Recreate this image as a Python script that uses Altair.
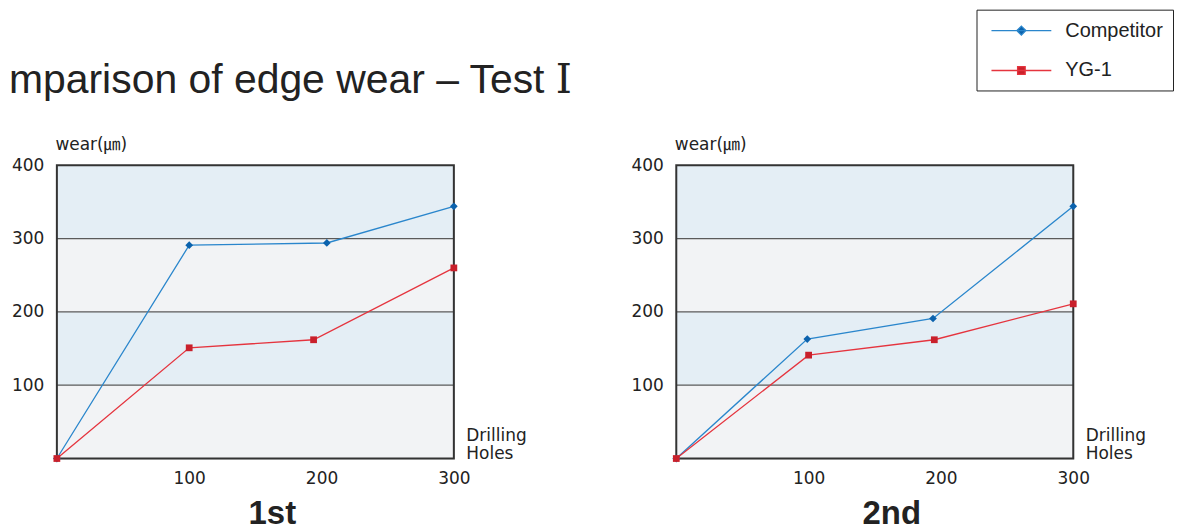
import altair as alt
import pandas as pd

# ---------------- data ----------------
series = ["Competitor", "YG-1"]
holes_ticks = [100, 200, 300]
wear_ticks = [100, 200, 300, 400]
holes_range = [0, 300]
wear_range = [0, 400]

t1_comp_holes = [0, 100, 204, 300]
t1_comp_wear = [0, 291, 294, 344]
t1_yg_holes = [0, 100, 194, 300]
t1_yg_wear = [0, 151, 162, 260]

t2_comp_holes = [0, 99, 194, 300]
t2_comp_wear = [0, 163, 191, 344]
t2_yg_holes = [0, 100, 195, 300]
t2_yg_wear = [0, 141, 162, 211]

band_lo = [0, 100, 200, 300]
band_hi = [100, 200, 300, 400]
band_kind = ["low", "high", "low", "high"]
grid_wear = [100, 200, 300]

main_title = "mparison of edge wear – Test Ⅰ"
panel_titles = ["1st", "2nd"]
y_title = "wear(㎛)"
x_title = ["Drilling", "Holes"]

# ---------------- style ----------------
W, H = 398, 294
BLUE_LINE, BLUE_MARK = "#2a86cc", "#0b62ad"
RED_LINE, RED_MARK = "#e5343e", "#c9202b"
BAND_BLUE = "#e4eef5"
TXT = "#222222"
AX_FONT = "DejaVu Sans"

xs = alt.Scale(domain=holes_range, nice=False, zero=False)
ys = alt.Scale(domain=wear_range, nice=False, zero=False)

ax_x = alt.Axis(values=holes_ticks, labelFont=AX_FONT, labelFontSize=17, labelColor=TXT,
                labelPadding=12, ticks=False, domain=False, grid=False, labelFlush=False,
                title=x_title, titleFont=AX_FONT, titleFontSize=17, titleFontWeight="normal",
                titleColor=TXT, titleAngle=0, titleAlign="left", titleBaseline="alphabetic",
                titleX=410, titleY=-18, titleLineHeight=18)
ax_y = alt.Axis(values=wear_ticks, labelFont=AX_FONT, labelFontSize=17, labelColor=TXT,
                labelPadding=13, ticks=False, domain=False, grid=False,
                title=y_title, titleFont=f"{AX_FONT}, 'Noto Sans CJK KR'", titleFontSize=17,
                titleFontWeight="normal",
                titleColor=TXT, titleAngle=0, titleAlign="left", titleBaseline="alphabetic",
                titleX=-2, titleY=-16)

diamond_path = "M-3,0H3M0,-0.45L0.45,0L0,0.45L-0.45,0Z"
square_path = "M-3,0H3M-0.38,-0.38H0.38V0.38H-0.38Z"

leg = alt.Legend(title=None, orient="none", legendX=922, legendY=-156,
                 labelFont="Liberation Sans", labelFontSize=20, labelColor=TXT,
                 strokeColor="#222222", fillColor="white", padding=10,
                 symbolSize=400, symbolStrokeWidth=1.3, symbolOffset=24, labelOffset=33,
                 rowPadding=19, symbolOpacity=1)


def panel(comp_h, comp_w, yg_h, yg_w, ptitle, band_gray, with_extras):
    bands = pd.DataFrame({"h": [holes_range[0]] * 4, "h2": [holes_range[1]] * 4,
                          "w": band_lo, "w2": band_hi, "k": band_kind})
    grid = pd.DataFrame({"h": [holes_range[0]] * 3, "h2": [holes_range[1]] * 3, "w": grid_wear})
    frame = pd.DataFrame({"h": [holes_range[0]], "h2": [holes_range[1]],
                          "w": [wear_range[0]], "w2": [wear_range[1]]})
    comp = pd.DataFrame({"h": comp_h, "w": comp_w})
    yg = pd.DataFrame({"h": yg_h, "w": yg_w})

    X = alt.X("h:Q", scale=xs, axis=ax_x)
    Y = alt.Y("w:Q", scale=ys, axis=ax_y)

    l_bands = alt.Chart(bands).mark_rect().encode(
        x=X, x2="h2:Q", y=Y, y2="w2:Q",
        color=alt.Color("k:N", scale=alt.Scale(domain=["low", "high"], range=[band_gray, BAND_BLUE]),
                        legend=None))
    l_grid = alt.Chart(grid).mark_rule(color="#5a5a5a", strokeWidth=1.3).encode(x=X, x2="h2:Q", y=Y)
    l_frame = alt.Chart(frame).mark_rect(fillOpacity=0, stroke="#333333", strokeWidth=2).encode(
        x=X, x2="h2:Q", y=Y, y2="w2:Q")
    l_cl = alt.Chart(comp).mark_line(color=BLUE_LINE, strokeWidth=1.3).encode(x=X, y=Y)
    l_cp = alt.Chart(comp).mark_point(shape="diamond", filled=True, size=60, color=BLUE_MARK,
                                      opacity=1).encode(x=X, y=Y)
    l_yl = alt.Chart(yg).mark_line(color=RED_LINE, strokeWidth=1.3).encode(x=X, y=Y)
    l_yp = alt.Chart(yg).mark_square(size=46, color=RED_MARK, opacity=1).encode(x=X, y=Y)

    layers = [l_bands, l_grid, l_frame, l_cl, l_cp, l_yl, l_yp]
    if with_extras:
        l_title = alt.Chart(pd.DataFrame({"t": [main_title]})).mark_text(
            align="left", baseline="alphabetic", font="'Liberation Sans', 'DejaVu Serif'",
            fontSize=41, color=TXT
        ).encode(x=alt.value(-48), y=alt.value(-72), text="t:N")
        l_leg = alt.Chart(pd.DataFrame({"s": series})).mark_point(opacity=0).encode(
            stroke=alt.Stroke("s:N", scale=alt.Scale(domain=series, range=[BLUE_LINE, RED_LINE]), legend=leg),
            fill=alt.Fill("s:N", scale=alt.Scale(domain=series, range=[BLUE_MARK, RED_MARK]), legend=leg),
            shape=alt.Shape("s:N", scale=alt.Scale(domain=series, range=[diamond_path, square_path]), legend=leg),
        )
        layers += [l_title, l_leg]

    return alt.layer(*layers).properties(
        width=W, height=H,
        title=alt.TitleParams(ptitle, orient="bottom", anchor="middle", frame="group", dx=17,
                              font="'Liberation Sans Narrow', 'Liberation Sans'",
                              fontSize=33, fontWeight="bold", color=TXT, offset=12))


p1 = panel(t1_comp_holes, t1_comp_wear, t1_yg_holes, t1_yg_wear, panel_titles[0], "#f2f3f5", True)
p2 = panel(t2_comp_holes, t2_comp_wear, t2_yg_holes, t2_yg_wear, panel_titles[1], "#f6f6f6", False)

chart = alt.hconcat(p1, p2, spacing=223, bounds="flush").properties(
    padding={"left": 0, "top": 0, "right": 0, "bottom": 0}
).configure_view(stroke=None).configure(background="white")

chart.save("out.html", embed_options={"renderer": "svg", "actions": False})
